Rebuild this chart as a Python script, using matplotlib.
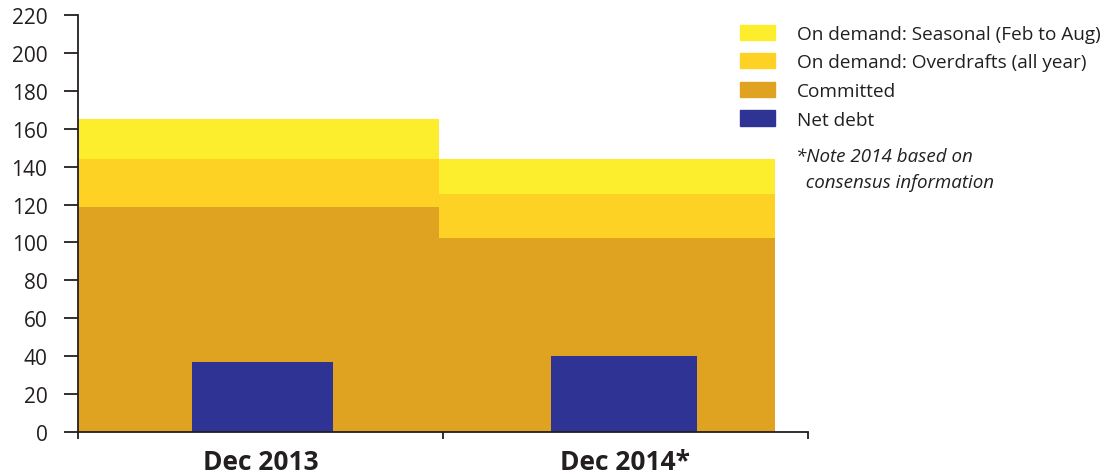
import matplotlib.pyplot as plt
from matplotlib.patches import Patch

plt.rcParams['font.family'] = ['Open Sans', 'DejaVu Sans']

periods = ['Dec 2013', 'Dec 2014*']
committed = [118.5, 102.5]
overdrafts = [25.5, 23.0]      # on top of committed
seasonal = [21.0, 18.5]        # on top of overdrafts
net_debt = [36.7, 40.0]

series_labels = ['On demand: Seasonal (Feb to Aug)', 'On demand: Overdrafts (all year)',
                 'Committed', 'Net debt']
y_ticks = list(range(0, 221, 20))

c_seasonal = '#FCEE2C'
c_overdraft = '#FDD225'
c_committed = '#E0A221'
c_debt = '#2E3394'
txt = '#231F20'

fig = plt.figure(figsize=(11.12, 4.77), dpi=100)
ax = fig.add_axes([0.0701, 0.0922, 0.6565, 0.8743])

# facility blocks span each period, net debt bars sit in the middle
left = [0.0, 0.99]
width = [0.99, 0.92]
ax.bar(left, committed, width=width, align='edge', color=c_committed, linewidth=0)
ax.bar(left, overdrafts, width=width, bottom=committed, align='edge',
       color=c_overdraft, linewidth=0)
tops = [c + o for c, o in zip(committed, overdrafts)]
ax.bar(left, seasonal, width=width, bottom=tops, align='edge',
       color=c_seasonal, linewidth=0)
ax.bar([0.505, 1.497], net_debt, width=[0.385, 0.40], color=c_debt, linewidth=0)

ax.set_xlim(0, 2)
ax.set_ylim(0, 220)
ax.set_yticks(y_ticks)
ax.set_xticks([0, 1, 2])
ax.set_xticklabels([])
for x, lab in zip([0.5, 1.5], periods):
    ax.text(x, -19.6, lab, ha='center', va='baseline', fontsize=19, fontweight='bold',
            color=txt, transform=ax.transData, clip_on=False)

for s in ['top', 'right']:
    ax.spines[s].set_visible(False)
for s in ['left', 'bottom']:
    ax.spines[s].set_linewidth(1.3)
    ax.spines[s].set_color(txt)
ax.tick_params(axis='y', direction='out', length=10, width=1.3, labelsize=15,
               colors=txt, pad=12)
ax.tick_params(axis='x', direction='out', length=5, width=1.3, colors=txt)

handles = [Patch(color=c) for c in [c_seasonal, c_overdraft, c_committed, c_debt]]
fig.legend(handles, series_labels, loc='upper left', bbox_to_anchor=(0.6498, 0.982),
           frameon=False, fontsize=13.7, handlelength=1.84, handleheight=0.84,
           handletextpad=1.15, labelspacing=0.55, labelcolor=txt)

fig.text(0.716, 0.69, '*Note 2014 based on\n  consensus information', fontsize=13.5,
         style='italic', color=txt, va='top', linespacing=1.6)

fig.savefig('out.png', dpi=100)
